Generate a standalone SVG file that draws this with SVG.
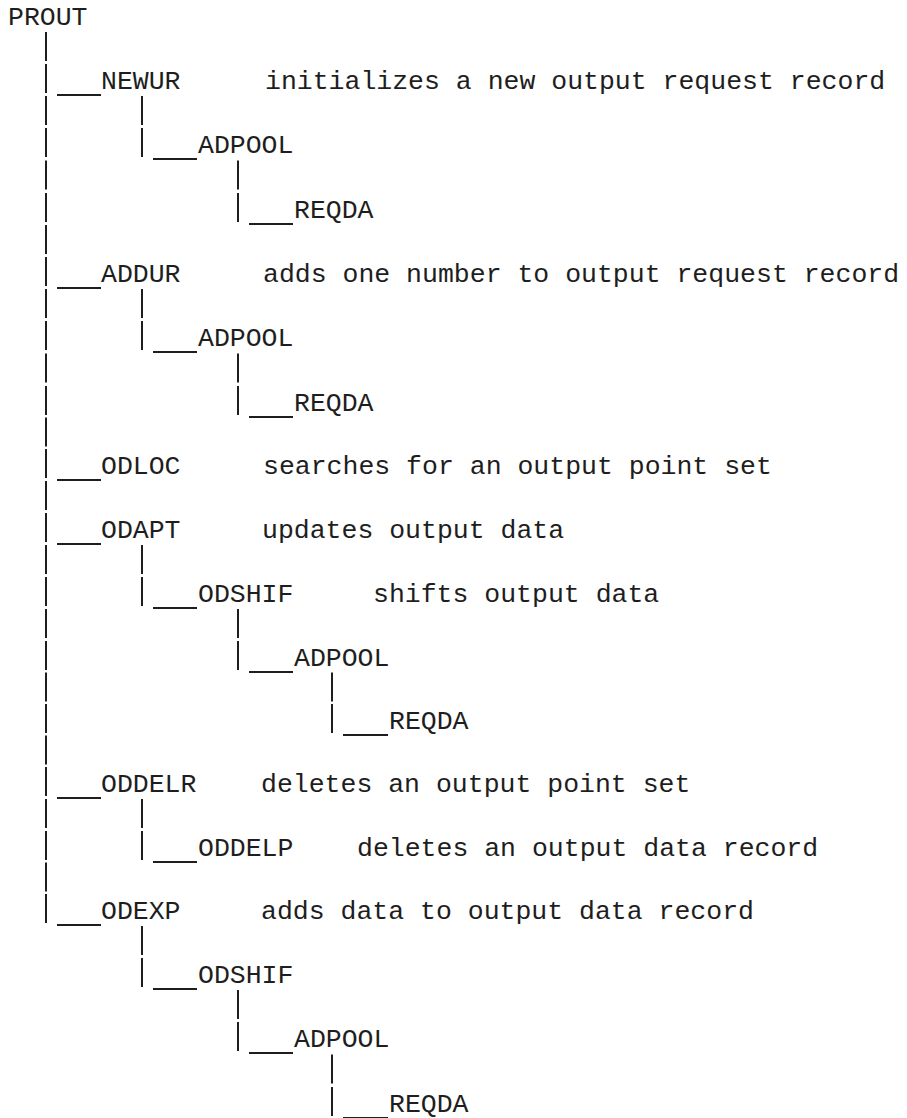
<svg xmlns="http://www.w3.org/2000/svg" width="907" height="1118" viewBox="0 0 907 1118">
  <style>
    text { font-family: "Liberation Mono", "DejaVu Sans Mono", monospace; font-size: 26.5px; fill: #1e1e1e; }
    .bar { stroke: #1e1e1e; stroke-width: 2; fill: none; }
  </style>
  <rect width="907" height="1118" fill="#ffffff"/>

  <!-- tree connectors: typewriter-style vertical bars and underscore stubs -->
  <g id="connectors" class="bar">
    <!-- level 1 trunk under PROUT -->
    <path d="M46 32V61M46 64V93M46 96V125M46 128V157M46 160.5V189.5M46 193V222M46 225V254M46 257V286M46 289V318M46 321V350M46 353.5V382.5M46 386V415M46 417.5V446.5M46 449V478M46 481V510M46 513V542M46 545V574M46 577V606M46 609V638M46 641V670M46 672.5V701.5M46 704V733M46 735.5V764.5M46 767V796M46 799V828M46 831V860M46 862.5V891.5M46 894V923"/>
    <!-- level 1 stubs -->
    <path d="M57 95H101M57 288H101M57 480H101M57 544H101M57 798H101M57 925H101"/>
    <!-- level 2 bars -->
    <path d="M142 96V125M142 128V157M142 289V318M142 321V350M142 545V574M142 577V606M142 799V828M142 831V860M142 926V955M142 958V987"/>
    <path d="M153 159H197M153 352H197M153 608H197M153 862H197M153 989H197"/>
    <!-- level 3 bars -->
    <path d="M238 160.5V189.5M238 193V222M238 353.5V382.5M238 386V415M238 609V638M238 641V670M238 990V1019M238 1022V1051"/>
    <path d="M249 224H293M249 417H293M249 672H293M249 1053H293"/>
    <!-- level 4 bars -->
    <path d="M332 672.5V701.5M332 704V733M332 1054.5V1083.5M332 1087V1116"/>
    <path d="M343 735H388M343 1118H388"/>
  </g>

  <g id="prout"><text x="8" y="25">PROUT</text></g>

  <g id="newur">
    <text x="101" y="89">NEWUR</text>
    <text x="265" y="89">initializes a new output request record</text>
  </g>
  <g id="newur-adpool"><text x="198" y="153">ADPOOL</text></g>
  <g id="newur-reqda"><text x="294" y="218">REQDA</text></g>

  <g id="addur">
    <text x="101" y="282">ADDUR</text>
    <text x="263" y="282">adds one number to output request record</text>
  </g>
  <g id="addur-adpool"><text x="198" y="346">ADPOOL</text></g>
  <g id="addur-reqda"><text x="294" y="411">REQDA</text></g>

  <g id="odloc">
    <text x="101" y="474">ODLOC</text>
    <text x="263" y="474">searches for an output point set</text>
  </g>

  <g id="odapt">
    <text x="101" y="538">ODAPT</text>
    <text x="262" y="538">updates output data</text>
  </g>
  <g id="odapt-odshif">
    <text x="198" y="602">ODSHIF</text>
    <text x="373" y="602">shifts output data</text>
  </g>
  <g id="odapt-adpool"><text x="294" y="666">ADPOOL</text></g>
  <g id="odapt-reqda"><text x="389" y="729">REQDA</text></g>

  <g id="oddelr">
    <text x="101" y="792">ODDELR</text>
    <text x="261" y="792">deletes an output point set</text>
  </g>
  <g id="oddelp">
    <text x="198" y="856">ODDELP</text>
    <text x="357" y="856">deletes an output data record</text>
  </g>

  <g id="odexp">
    <text x="101" y="919">ODEXP</text>
    <text x="261" y="919">adds data to output data record</text>
  </g>
  <g id="odexp-odshif"><text x="198" y="983">ODSHIF</text></g>
  <g id="odexp-adpool"><text x="294" y="1047">ADPOOL</text></g>
  <g id="odexp-reqda"><text x="389" y="1112">REQDA</text></g>
</svg>
